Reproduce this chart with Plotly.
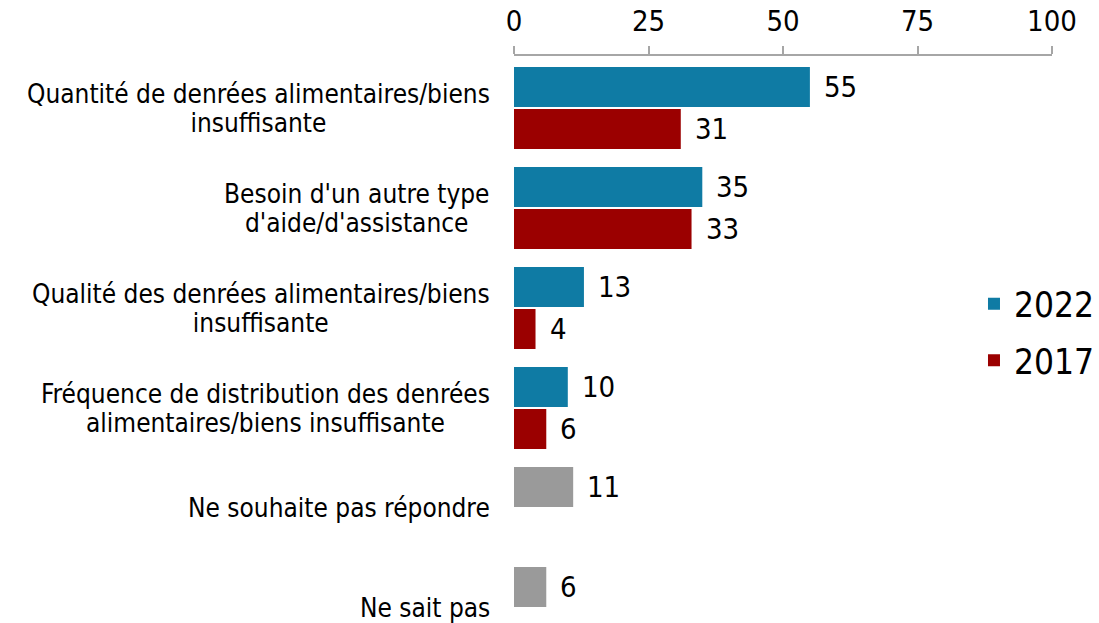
import plotly.graph_objects as go

categories = [
    "Quantité de denrées alimentaires/biens<br>insuffisante",
    "Besoin d'un autre type<br>d'aide/d'assistance",
    "Qualité des denrées alimentaires/biens<br>insuffisante",
    "Fréquence de distribution des denrées<br>alimentaires/biens insuffisante",
    "Ne souhaite pas répondre",
    "Ne sait pas",
]
values_2022 = [55, 35, 13, 10, None, None]
values_2017 = [31, 33, 4, 6, None, None]
values_other = [None, None, None, None, 11, 6]
tick_vals = [0, 25, 50, 75, 100]

BLUE = "#0f7ba4"
RED = "#9b0000"
GREY = "#9a9a9a"
FONT = "DejaVu Sans Condensed, DejaVu Sans, sans-serif"

pos = list(range(len(categories)))

fig = go.Figure()
fig.add_trace(go.Bar(
    y=pos, x=values_2022, orientation="h", name="2022",
    marker=dict(color=BLUE, line=dict(width=0)),
    offset=-0.41, width=0.40, legendgroup="a",
))
fig.add_trace(go.Bar(
    y=pos, x=values_2017, orientation="h", name="2017",
    marker=dict(color=RED, line=dict(width=0)),
    offset=0.01, width=0.40, legendgroup="b",
))
fig.add_trace(go.Bar(
    y=pos, x=values_other, orientation="h", name="Autre",
    marker=dict(color=GREY, line=dict(width=0)),
    offset=-0.41, width=0.40, showlegend=False,
))

annotations = []
for vals, off in ((values_2022, -0.21), (values_2017, 0.21), (values_other, -0.21)):
    for p, v in zip(pos, vals):
        if v is None:
            continue
        annotations.append(dict(
            x=v, y=p + off, xref="x", yref="y", text=str(v), showarrow=False,
            xanchor="left", yanchor="middle", xshift=12,
            font=dict(size=29, color="#000000", family=FONT),
        ))
for p, c in zip(pos, categories):
    # smaller base size tightens the line spacing; spans carry the visible size
    text = "<br>".join(
        "<span style='font-size:26px'>%s</span>" % line for line in c.split("<br>")
    )
    annotations.append(dict(
        x=0, y=p, xref="paper", yref="y", text=text, showarrow=False,
        xanchor="right", yanchor="middle", align="center", xshift=-22,
        font=dict(size=22, color="#000000", family=FONT),
    ))

fig.update_layout(
    width=1099, height=623,
    margin=dict(l=514, r=47, t=56, b=5, autoexpand=False),
    paper_bgcolor="white", plot_bgcolor="white",
    font=dict(family=FONT, color="#000000"),
    barmode="overlay",
    showlegend=True,
    legend=dict(
        x=0.855, y=0.509, xanchor="left", yanchor="middle",
        font=dict(size=35, family=FONT, color="#000000"),
        traceorder="grouped", tracegroupgap=8,
        bgcolor="rgba(0,0,0,0)",
    ),
    xaxis=dict(
        side="top", range=[0, 100], tickvals=tick_vals,
        ticks="outside", ticklen=8, tickcolor="#a6a6a6", tickwidth=1.5,
        showline=True, linecolor="#a6a6a6", linewidth=1.5,
        showgrid=False, zeroline=False, automargin=False,
        tickfont=dict(size=29, color="#000000", family=FONT),
        ticklabelstandoff=4,
    ),
    yaxis=dict(
        range=[5.1, -0.52], showticklabels=False, showgrid=False,
        zeroline=False, showline=False, ticks="", automargin=False,
    ),
    annotations=annotations,
)

fig.write_html(
    "out.html",
    config={"displayModeBar": False},
    post_script="document.body.style.margin='0';document.body.style.padding='0';",
)
